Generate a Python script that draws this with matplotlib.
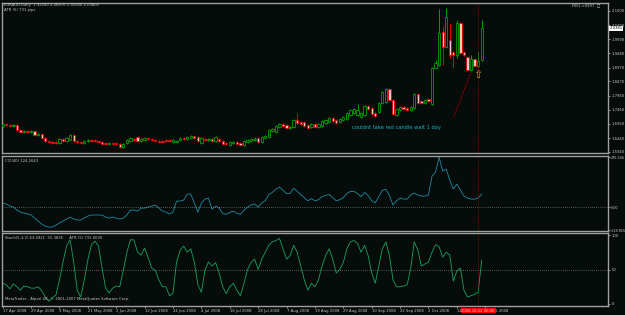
import numpy as np
import matplotlib.pyplot as plt
from matplotlib.transforms import blended_transform_factory

# EURAUD daily bars, 17 Apr 2008 .. 23 Oct 2008
opens = [1.687, 1.694, 1.691, 1.687, 1.691, 1.673, 1.666, 1.669, 1.666, 1.669,
         1.655, 1.658, 1.644, 1.633, 1.630, 1.630, 1.626, 1.641, 1.633, 1.637,
         1.655, 1.633, 1.630, 1.626, 1.633, 1.637, 1.637, 1.633, 1.630, 1.626,
         1.623, 1.626, 1.626, 1.623, 1.612, 1.626, 1.633, 1.641, 1.648, 1.633,
         1.637, 1.644, 1.641, 1.637, 1.633, 1.633, 1.637, 1.637, 1.630, 1.630,
         1.637, 1.644, 1.641, 1.644, 1.651, 1.648, 1.626, 1.641, 1.637, 1.641,
         1.633, 1.641, 1.633, 1.626, 1.619, 1.626, 1.630, 1.626, 1.619, 1.630,
         1.633, 1.637, 1.644, 1.630, 1.644, 1.648, 1.669, 1.666, 1.684, 1.694,
         1.691, 1.680, 1.684, 1.709, 1.702, 1.702, 1.691, 1.684, 1.694, 1.684,
         1.687, 1.698, 1.702, 1.716, 1.709, 1.702, 1.709, 1.712, 1.727, 1.734,
         1.727, 1.720, 1.727, 1.759, 1.752, 1.734, 1.737, 1.770, 1.773, 1.820,
         1.780, 1.727, 1.745, 1.755, 1.752, 1.745, 1.752, 1.802, 1.777, 1.770,
         1.784, 1.766, 1.895, 1.906, 2.025, 1.971, 1.996, 1.953, 1.942, 2.057,
         1.953, 1.935, 1.888, 1.928, 1.903, 1.9226]
closes = [1.694, 1.691, 1.687, 1.691, 1.673, 1.666, 1.669, 1.666, 1.669, 1.655,
          1.658, 1.644, 1.633, 1.630, 1.626, 1.626, 1.641, 1.633, 1.644, 1.655,
          1.633, 1.630, 1.626, 1.633, 1.637, 1.633, 1.633, 1.630, 1.623, 1.623,
          1.626, 1.623, 1.623, 1.612, 1.623, 1.637, 1.644, 1.637, 1.633, 1.641,
          1.644, 1.641, 1.637, 1.633, 1.630, 1.630, 1.633, 1.633, 1.637, 1.633,
          1.644, 1.641, 1.648, 1.651, 1.644, 1.633, 1.644, 1.637, 1.641, 1.633,
          1.648, 1.633, 1.623, 1.623, 1.630, 1.630, 1.623, 1.619, 1.633, 1.637,
          1.641, 1.641, 1.630, 1.648, 1.651, 1.673, 1.676, 1.687, 1.694, 1.687,
          1.680, 1.684, 1.709, 1.698, 1.694, 1.687, 1.680, 1.694, 1.684, 1.694,
          1.705, 1.709, 1.716, 1.705, 1.698, 1.712, 1.720, 1.734, 1.745, 1.748,
          1.745, 1.734, 1.759, 1.748, 1.730, 1.723, 1.770, 1.809, 1.820, 1.780,
          1.730, 1.748, 1.755, 1.748, 1.745, 1.755, 1.802, 1.770, 1.770, 1.780,
          1.777, 1.895, 1.913, 2.021, 1.971, 2.078, 1.942, 1.942, 2.057, 1.949,
          1.942, 1.888, 1.928, 1.903, 1.921, 2.03805]
highs = [1.698, 1.697, 1.694, 1.695, 1.693, 1.676, 1.672, 1.671, 1.673, 1.671,
         1.662, 1.661, 1.647, 1.636, 1.633, 1.632, 1.644, 1.645, 1.648, 1.659,
         1.658, 1.636, 1.633, 1.637, 1.641, 1.640, 1.640, 1.636, 1.633, 1.629,
         1.630, 1.629, 1.630, 1.626, 1.627, 1.641, 1.648, 1.645, 1.651, 1.645,
         1.648, 1.647, 1.644, 1.640, 1.637, 1.636, 1.640, 1.641, 1.641, 1.637,
         1.648, 1.647, 1.652, 1.655, 1.655, 1.652, 1.648, 1.645, 1.644, 1.644,
         1.652, 1.644, 1.637, 1.630, 1.634, 1.634, 1.633, 1.630, 1.637, 1.641,
         1.644, 1.648, 1.648, 1.652, 1.655, 1.677, 1.680, 1.691, 1.698, 1.698,
         1.694, 1.688, 1.713, 1.734, 1.705, 1.705, 1.694, 1.698, 1.698, 1.698,
         1.709, 1.713, 1.720, 1.720, 1.712, 1.716, 1.724, 1.738, 1.749, 1.752,
         1.766, 1.738, 1.763, 1.763, 1.756, 1.738, 1.774, 1.813, 1.824, 1.824,
         1.784, 1.752, 1.759, 1.759, 1.755, 1.759, 1.806, 1.806, 1.780, 1.784,
         1.788, 1.899, 1.924, 2.107, 2.046, 2.111, 2.057, 1.956, 2.068, 2.061,
         1.956, 1.938, 1.942, 1.931, 1.953, 2.06870]
lows = [1.684, 1.688, 1.684, 1.684, 1.670, 1.662, 1.662, 1.663, 1.663, 1.652,
        1.651, 1.641, 1.630, 1.626, 1.622, 1.623, 1.623, 1.630, 1.630, 1.634,
        1.630, 1.626, 1.622, 1.623, 1.630, 1.630, 1.630, 1.627, 1.619, 1.619,
        1.619, 1.620, 1.619, 1.608, 1.608, 1.622, 1.630, 1.634, 1.630, 1.630,
        1.634, 1.637, 1.634, 1.630, 1.626, 1.627, 1.630, 1.630, 1.627, 1.627,
        1.634, 1.637, 1.637, 1.641, 1.641, 1.630, 1.623, 1.634, 1.634, 1.630,
        1.630, 1.630, 1.619, 1.619, 1.616, 1.623, 1.619, 1.616, 1.616, 1.627,
        1.630, 1.634, 1.627, 1.627, 1.641, 1.644, 1.666, 1.662, 1.680, 1.684,
        1.676, 1.676, 1.680, 1.695, 1.690, 1.684, 1.676, 1.680, 1.680, 1.680,
        1.684, 1.695, 1.698, 1.702, 1.695, 1.698, 1.705, 1.709, 1.723, 1.730,
        1.723, 1.716, 1.723, 1.745, 1.727, 1.719, 1.734, 1.766, 1.770, 1.777,
        1.727, 1.723, 1.741, 1.745, 1.741, 1.741, 1.748, 1.766, 1.766, 1.766,
        1.773, 1.762, 1.891, 1.902, 1.906, 1.967, 1.931, 1.895, 1.931, 1.945,
        1.938, 1.884, 1.884, 1.899, 1.899, 1.92040]

cci = [38, 29, 10, 0, -29, -48, -57, -67, -76, -105,
       -134, -163, -182, -191, -191, -172, -153, -134, -115, -96,
       -115, -124, -124, -105, -86, -76, -76, -76, -76, -96,
       -105, -96, -105, -115, -105, -76, -29, -29, -38, -10,
       -10, 0, 10, 19, -10, -38, -48, -67, -48, 57,
       57, 67, 124, 124, 38, -48, 38, 76, 86, -20,
       10, -10, -60, -70, -50, -40, -60, -70, -30, 0,
       20, 30, 0, 40, 60, 120, 140, 170, 190, 160,
       130, 130, 180, 150, 120, 90, 60, 80, 60, 70,
       100, 110, 120, 90, 60, 70, 90, 130, 150, 150,
       130, 100, 140, 110, 60, 40, 100, 160, 170, 110,
       20, 60, 86, 76, 76, 115, 134, 115, 105, 105,
       115, 296, 335, 476.5, 344, 363, 258, 172, 220, 163,
       105, 86, 76, 76, 86, 124.26]

stoch = [30, 28, 22, 29, 25, 20, 26, 25, 23, 23,
         25, 19, 10, 4, 9, 13, 35, 61, 84, 93,
         61, 20, 10, 35, 64, 86, 91, 84, 52, 23,
         16, 23, 26, 25, 49, 75, 93, 93, 75, 71,
         81, 67, 52, 49, 35, 25, 25, 12, 16, 61,
         78, 84, 75, 80, 61, 28, 17, 49, 61, 55,
         60, 45, 25, 15, 25, 30, 20, 12, 30, 50,
         60, 65, 50, 65, 75, 85, 90, 92, 95, 80,
         65, 70, 85, 75, 55, 35, 20, 30, 25, 35,
         55, 70, 80, 65, 45, 50, 60, 80, 90, 92,
         88, 75, 85, 70, 45, 30, 55, 80, 90, 70,
         35, 25, 25, 26, 28, 52, 90, 78, 55, 58,
         61, 75, 86, 83, 68, 75, 71, 33, 48, 52,
         20, 10, 12, 14, 17, 63.49]

price_ticks = [2.1000, 2.0490, 1.9990, 1.9480, 1.8970, 1.8470, 1.7960,
               1.7460, 1.6950, 1.6440, 1.5940]
date_labels = ["17 Apr 2008", "29 Apr 2008", "9 May 2008", "21 May 2008",
               "2 Jun 2008", "12 Jun 2008", "24 Jun 2008", "4 Jul 2008",
               "16 Jul 2008", "28 Jul 2008", "7 Aug 2008", "19 Aug 2008",
               "29 Aug 2008", "10 Sep 2008", "22 Sep 2008", "2 Oct 2008",
               "14 Oct 2008", "24 Oct 2008"]
date_step = 8
cursor_bar = 134
trend_x = [127.1, 132.8]
trend_y = [1.7195, 1.9062]

BG = '#050c0a'
FG = '#c8c8c8'
GRID = '#a0a0a0'
UP = '#00a000'
DN = '#e00000'
PINK = '#ffc4c4'
FS = 2.7

opens, closes = np.array(opens), np.array(closes)
highs, lows = np.array(highs), np.array(lows)
x = np.arange(len(closes))
up = closes >= opens

W, H = 625, 315
fig = plt.figure(figsize=(W / 100, H / 100), dpi=100, facecolor=BG)


def panel(top, bottom):
    a = fig.add_axes([2 / W, 1 - bottom / H, 606 / W, (bottom - top) / H])
    a.set_facecolor(BG)
    for s in a.spines.values():
        s.set_color(GRID)
        s.set_linewidth(1.0)
    a.set_xlim(-0.2, 170.6)
    a.yaxis.tick_right()
    a.tick_params(colors=FG, labelsize=FS, length=1.5, width=0.5, pad=1)
    a.set_xticks([])
    return a


ax = panel(3, 153)
ax2 = panel(156, 231)
ax3 = panel(233, 306)

# candles
ax.vlines(x, lows, highs, colors=np.where(up, UP, DN), lw=0.7, zorder=2)
ax.bar(x[up], (closes - opens)[up], bottom=opens[up], width=0.65,
       facecolor=BG, edgecolor=UP, lw=0.6, zorder=3)
ax.bar(x[~up], (closes - opens)[~up], bottom=opens[~up], width=0.65,
       facecolor=PINK, edgecolor=DN, lw=0.6, zorder=3)
ax.set_ylim(1.5902, 2.1287)
ax.set_yticks(price_ticks)
ax.set_yticklabels(["%.4f" % p for p in price_ticks])

ax.plot(trend_x, trend_y, color='#a00000', lw=0.7, ls=(0, (2, 1)))
ax.text(cursor_bar, 1.872, "\u21e7", color='#c8a000', fontsize=8,
        ha='center', va='center')
ax.text(98.5, 1.682, "couldnt take red candle wait 1 day", color='#1ab0c0',
        fontsize=3.7, va='center')

tr = blended_transform_factory(ax.transAxes, ax.transData)
ax.text(1.003, closes[-1], "%.4f" % closes[-1], transform=tr, fontsize=FS,
        color='black', va='center', zorder=10,
        bbox=dict(facecolor='white', edgecolor='none', pad=0.3))

# CCI
ax2.plot(x, cci, color='#1f8aa3', lw=0.6)
ax2.axhline(0, color=GRID, lw=0.5, ls=(0, (1, 2)))
ax2.set_ylim(-229, 488)
ax2.set_yticks([476.546, 0, -222])
ax2.set_yticklabels(["476.546", "0.00", "-118.855"])
ax2.tick_params(axis='y', labelsize=2.4, pad=0.5)
ax2.text(0.005, 0.96, "CCI(40) 124.2643", transform=ax2.transAxes,
         fontsize=FS, color=FG, va='top')

# Stochastic
ax3.plot(x, stoch, color='#1aa060', lw=0.6)
ax3.axhline(50, color=GRID, lw=0.5, ls=(0, (1, 2)))
ax3.set_ylim(-2.9, 102.9)
ax3.set_yticks([100, 50, 0])
ax3.set_yticklabels(["100", "50", "0"])
ax3.text(0.005, 0.96, "Stoch(5,3,2) 63.4921  55.3835     ATR (5) 731.0000",
         transform=ax3.transAxes, fontsize=FS, color=FG, va='top')
ax3.text(0.005, 0.07, "MetaTrader - Alpari UK, \u00a9 2001-2007 MetaQuotes Software Corp.",
         transform=ax3.transAxes, fontsize=FS, color=FG, va='bottom')
ax3.set_xticks(np.arange(len(date_labels)) * date_step)
ax3.set_xticklabels(date_labels, ha='left')
ax3.tick_params(axis='x', length=1.5, pad=1)

for a in (ax, ax2, ax3):
    a.axvline(cursor_bar, color='#b00000', lw=0.6, ls=(0, (1, 1.5)))

trb = blended_transform_factory(ax3.transData, ax3.transAxes)
ax3.text(cursor_bar, -0.035, "2008.10.22 00:00", transform=trb, fontsize=FS,
         color='#ffd0d0', ha='center', va='top', zorder=10,
         bbox=dict(facecolor='#ff0000', edgecolor='none', pad=0.5))

fig.text(4 / W, 1 - 3 / H, "EURAUD,Daily  1.92260 2.06870 1.92040 2.03805",
         fontsize=FS, color=FG, va='top')
fig.text(4 / W, 1 - 8.5 / H, "ATR (5) 731 pips", fontsize=FS, color=FG,
         va='top')
fig.text(600 / W, 1 - 3.5 / H, "FIB1->0997  \u25a1", fontsize=FS, color=FG,
         va='top', ha='right')

fig.savefig("out.png", dpi=100, facecolor=BG)
